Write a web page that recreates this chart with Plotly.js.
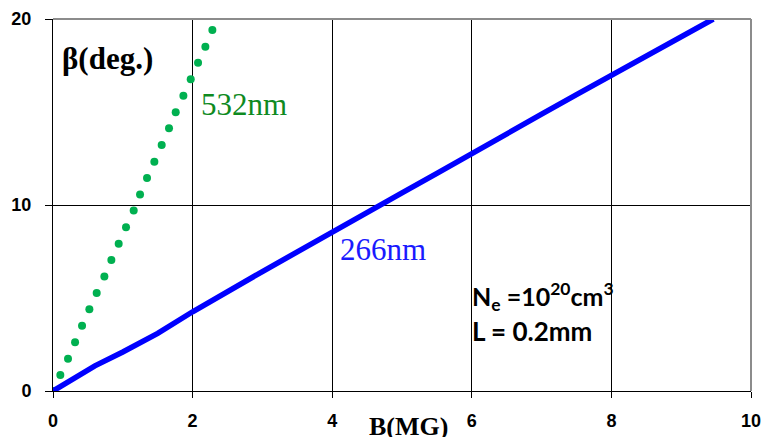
<!DOCTYPE html>
<html>
<head>
<meta charset="utf-8">
<script src="https://cdn.plot.ly/plotly-3.0.1.min.js"></script>
<style>html,body{margin:0;padding:0;background:#fff;}#chart{width:764px;height:437px;}</style>
</head>
<body>
<div id="chart"></div>
<script>
// 532 nm series (dotted green)
var x532 = [0, 0.105, 0.215, 0.316, 0.416, 0.521, 0.626, 0.736, 0.836, 0.941, 1.046, 1.156, 1.247, 1.347, 1.452, 1.557, 1.662, 1.758, 1.868, 1.973, 2.078, 2.183, 2.283];
var y532 = [0, 0.86, 1.74, 2.62, 3.51, 4.39, 5.27, 6.15, 7.04, 7.92, 8.80, 9.70, 10.57, 11.45, 12.33, 13.23, 14.12, 14.98, 15.88, 16.76, 17.65, 18.51, 19.41];
// 266 nm series (solid blue)
var x266 = [0, 0.3, 0.6, 1.0, 1.5, 2.0, 2.5, 3.0, 3.5, 4.0, 4.5, 5.0, 5.5, 6.0, 6.5, 7.0, 7.5, 8.0, 8.5, 9.0, 9.46];
var y266 = [0, 0.68, 1.35, 2.1, 3.1, 4.26, 5.3, 6.42, 7.48, 8.51, 9.58, 10.65, 11.7, 12.78, 13.85, 14.88, 15.93, 16.99, 18.0, 19.05, 20.0];
var xTicks = [0, 2, 4, 6, 8, 10];
var yTicks = [0, 10, 20];

var traces = [
  {x: x532, y: y532, type: 'scatter', mode: 'markers', marker: {color: '#00b050', size: 8}, hoverinfo: 'skip'},
  {x: x266, y: y266, type: 'scatter', mode: 'lines', line: {color: '#0000ff', width: 5.5}, hoverinfo: 'skip'}
];

var tf = {family: 'Liberation Sans, Arial, sans-serif', size: 18, color: '#000', weight: 'bold'};
var layout = {
  width: 764, height: 437,
  margin: {l: 53, r: 13, t: 19, b: 46},
  paper_bgcolor: '#fff', plot_bgcolor: '#fff',
  showlegend: false,
  xaxis: {
    range: [0, 10], tickvals: xTicks, ticktext: xTicks.map(String),
    showgrid: true, gridcolor: '#000', gridwidth: 1,
    zeroline: false, showline: true, linecolor: '#000', linewidth: 1,
    ticks: 'outside', ticklen: 6, tickcolor: '#000', tickwidth: 1,
    ticklabelstandoff: 7,
    tickfont: tf, fixedrange: true
  },
  yaxis: {
    range: [0, 20], tickvals: yTicks, ticktext: yTicks.map(String),
    showgrid: true, gridcolor: '#000', gridwidth: 1,
    zeroline: false, showline: true, linecolor: '#000', linewidth: 1,
    ticks: 'outside', ticklen: 7, tickcolor: '#000', tickwidth: 1,
    ticklabelstandoff: 10,
    tickfont: tf, fixedrange: true
  },
  shapes: [
    {type: 'line', xref: 'paper', yref: 'paper', x0: 0, x1: 1, y0: 1, y1: 1, line: {color: '#8c8c8c', width: 2}, layer: 'above'},
    {type: 'line', xref: 'paper', yref: 'paper', x0: 1, x1: 1, y0: 0, y1: 1, line: {color: '#8c8c8c', width: 2}, layer: 'above'}
  ],
  annotations: [
    {text: '<b>β(deg.)</b>', xref: 'paper', yref: 'paper', x: 0.010, y: 0.895, xanchor: 'left', yanchor: 'middle', showarrow: false,
     font: {family: 'Liberation Serif, Times New Roman, serif', size: 31, color: '#000'}},
    {text: '532nm', xref: 'x', yref: 'y', x: 2.09, y: 15.4, xanchor: 'left', yanchor: 'middle', showarrow: false,
     font: {family: 'Liberation Serif, Times New Roman, serif', size: 31, color: '#0f8a1f'}},
    {text: '266nm', xref: 'x', yref: 'y', x: 4.09, y: 7.6, xanchor: 'left', yanchor: 'middle', showarrow: false,
     font: {family: 'Liberation Serif, Times New Roman, serif', size: 31, color: '#1a1aff'}},
    {text: '<b>N<sub>e</sub> =10<sup>20</sup>cm<sup>3</sup></b>', xref: 'paper', yref: 'paper', x: 0.598, y: 0.255, xanchor: 'left', yanchor: 'middle', showarrow: false,
     font: {family: 'Lato, Open Sans, sans-serif', size: 25, color: '#000'}},
    {text: '<b>L = 0.2mm</b>', xref: 'paper', yref: 'paper', x: 0.598, y: 0.16, xanchor: 'left', yanchor: 'middle', showarrow: false,
     font: {family: 'Lato, Open Sans, sans-serif', size: 26, color: '#000'}},
    {text: '<b>B(MG)</b>', xref: 'paper', yref: 'paper', x: 0.51, y: -0.05, xanchor: 'center', yanchor: 'top', showarrow: false,
     font: {family: 'Liberation Serif, Times New Roman, serif', size: 26, color: '#000'}}
  ]
};

Plotly.newPlot('chart', traces, layout, {displayModeBar: false, staticPlot: true});
</script>
</body>
</html>
